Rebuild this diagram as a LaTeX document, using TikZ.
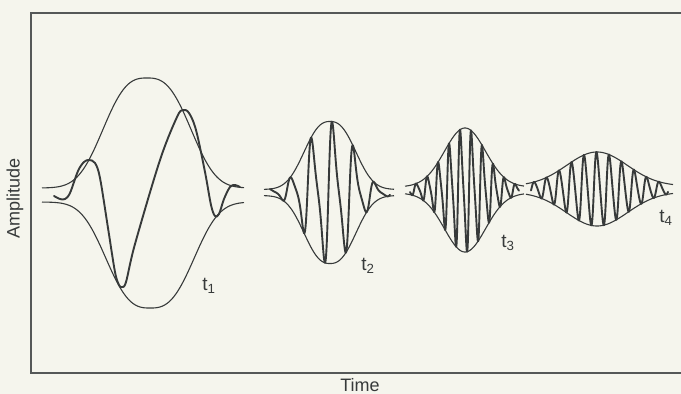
\documentclass[tikz,border=0pt]{standalone}
\usepackage{fontspec}
\setmainfont{Liberation Sans}
\definecolor{paper}{RGB}{245,245,237}
\definecolor{ink}{RGB}{55,58,58}
\begin{document}
\begin{tikzpicture}[x=1pt,y=-1pt,
  frameline/.style={line width=1.8pt, draw=ink!85},
  env/.style={line width=1.1pt, draw=ink},
  carrier/.style={line width=1.9pt, draw=ink, line join=round, line cap=round},
  lab/.style={font=\fontsize{18}{20}\selectfont, text=ink, inner sep=0pt},
  tlab/.style={font=\fontsize{19}{21}\selectfont, text=ink, inner sep=0pt}]
\fill[paper] (0,0) rectangle (681,394);
\useasboundingbox (0,0) rectangle (681,394);
% frame
\draw[frameline] (681,13) -- (31,13) -- (31,373) -- (681,373);
\node[lab] (time) at (360,385) {Time};
\node[lab, rotate=90] (amp) at (15,198) {Amplitude};
% packet 1
\draw[env] plot[domain=42:244, samples=140] (\x, {195 - 7 - 110*exp(-1*pow(abs(\x-147)/52+0.001,2.8))});
\draw[env] plot[domain=42:244, samples=140] (\x, {195 + 7 + 106*exp(-1*pow(abs(\x-150)/52+0.001,2.8))});
\draw[carrier] plot[smooth, tension=0.55] coordinates {
  (54,196) (60,199) (65,199) (70,193) (78,171) (84,162) (89,160) (95,163) (100,178)
  (108,228) (115,272) (119,285) (122,287) (126,282) (135,244)
  (160,160) (177,117) (183,110) (189,113) (196,130) (205,172) (211,205) (215,216)
  (219,214) (224,199) (230,187) (235,185) (240,187)};
\node[tlab] (t1) at (209,286) {t\textsubscript{1}};
% packet 2
\draw[env] plot[domain=264:394, samples=140] (\x, {192.5 - 3 - 68*exp(-1*pow(abs(\x-330)/32+0.001,2.5))});
\draw[env] plot[domain=264:394, samples=140] (\x, {192.5 + 3 + 68*exp(-1*pow(abs(\x-330)/32+0.001,2.5))});
\draw[carrier] plot[domain=270:390, samples=700] (\x, {192.5 - (3+68*exp(-1*pow(abs(\x-330)/32+0.001,2.5)))*cos((360/21)*(\x-291.7) + 34.4*cos((360/21)*(\x-291.7)))});
\node[tlab] (t2) at (368,266) {t\textsubscript{2}};
% packet 3
\draw[env] plot[domain=405:524, samples=120] (\x, {190 - 3 - 59*exp(-((\x-465)/29)^2)});
\draw[env] plot[domain=405:524, samples=120] (\x, {190 + 3 + 59*exp(-((\x-465)/29)^2)});
\draw[carrier] plot[domain=410:519, samples=900] (\x, {190 - (3+59*exp(-((\x-465)/29)^2))*cos((360/11)*(\x-427.8) + 28.6*cos((360/11)*(\x-427.8)))});
\node[tlab] (t3) at (508,243) {t\textsubscript{3}};
% packet 4
\draw[env] plot[domain=526:673, samples=140] (\x, {189 - 3 - 34*exp(-((\x-597)/43)^2)});
\draw[env] plot[domain=526:673, samples=140] (\x, {189 + 3 + 34*exp(-((\x-597)/43)^2)});
\draw[carrier] plot[domain=531:668, samples=900] (\x, {189 - (3+34*exp(-((\x-597)/43)^2))*cos((360/12.5)*(\x-597) + 17*cos((360/12.5)*(\x-597)))});
\node[tlab] (t4) at (666,218) {t\textsubscript{4}};
\end{tikzpicture}
\end{document}
